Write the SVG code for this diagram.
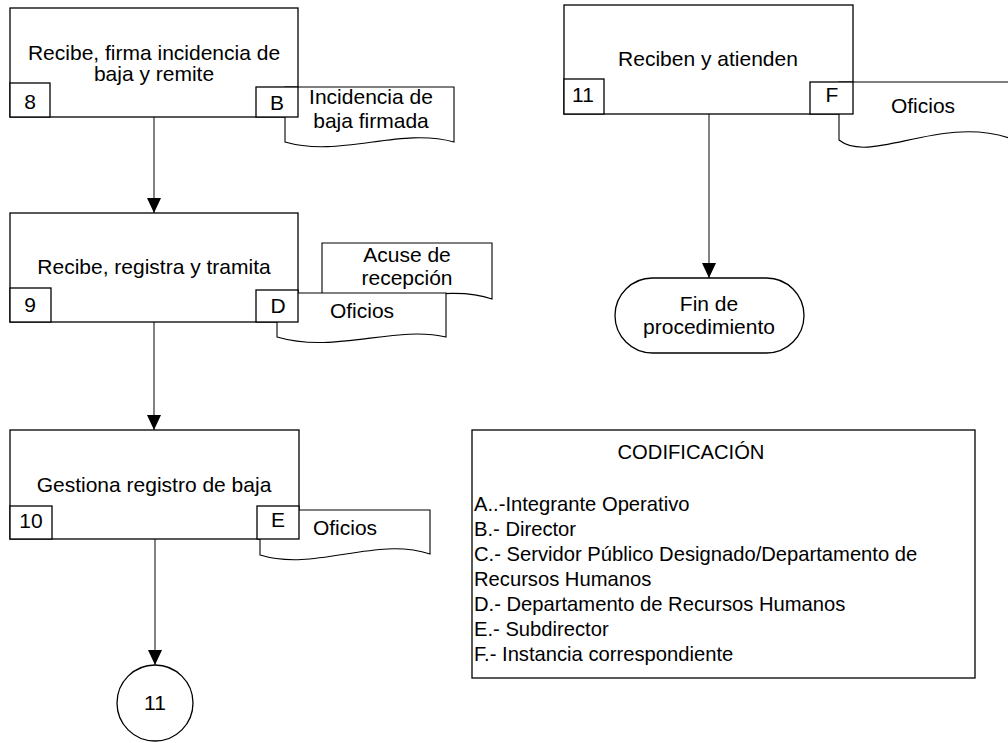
<svg xmlns="http://www.w3.org/2000/svg" width="1008" height="743" viewBox="0 0 1008 743">
<style>
.box{fill:#fff;stroke:#000;stroke-width:1.3}
.doc{fill:#fff;stroke:#000;stroke-width:1.1}
.conn{fill:none;stroke:#404040;stroke-width:1.3}
text{font-family:"Liberation Sans",Arial,sans-serif;font-size:21px;fill:#000}
.c{text-anchor:middle}
.k{font-size:20.2px}
</style>
<defs>
<marker id="arr" markerUnits="userSpaceOnUse" markerWidth="15" markerHeight="14" refX="15" refY="7" orient="auto">
<path d="M0,0 L15,7 L0,14 Z" fill="#000"/>
</marker>
</defs>
<rect width="1008" height="743" fill="#fff"/>
<g id="connectors">
<path class="conn" d="M154,117 V213" marker-end="url(#arr)"/>
<path class="conn" d="M154,322 V430" marker-end="url(#arr)"/>
<path class="conn" d="M155,539 V665" marker-end="url(#arr)"/>
<path class="conn" d="M709,114 V278" marker-end="url(#arr)"/>
</g>
<g id="node8">
<rect class="box" x="10" y="8" width="288" height="109"/>
<text class="c" x="154" y="60">Recibe, firma incidencia de</text>
<text class="c" x="154" y="81">baja y remite</text>
<path class="doc" d="M285,87 H454 V142 C400,127 340,158 285,142 Z"/>
<text class="c" x="371" y="104">Incidencia de</text>
<text class="c" x="371" y="128">baja firmada</text>
<rect class="box" x="10" y="83" width="40" height="34"/>
<text class="c" x="30" y="109">8</text>
<rect class="box" x="256" y="87" width="42" height="30"/>
<text class="c" x="277" y="110">B</text>
</g>
<g id="node9">
<rect class="box" x="10" y="213" width="288" height="109"/>
<text class="c" x="154" y="274">Recibe, registra y tramita</text>
<path class="doc" d="M322,243 H492 V299 C445,282 380,310 322,298 Z"/>
<text class="c" x="407" y="262">Acuse de</text>
<text class="c" x="407" y="285">recepción</text>
<path class="doc" d="M277,293 H446 V337 C395,325 335,354 277,337 Z"/>
<text class="c" x="362" y="318">Oficios</text>
<rect class="box" x="10" y="288" width="41" height="34"/>
<text class="c" x="30" y="312">9</text>
<rect class="box" x="256" y="290" width="42" height="32"/>
<text class="c" x="278" y="313">D</text>
</g>
<g id="node10">
<rect class="box" x="10" y="430" width="289" height="109"/>
<text class="c" x="154" y="492">Gestiona registro de baja</text>
<path class="doc" d="M260,510 H430 V554 C375,536 315,572 260,555 Z"/>
<text class="c" x="345" y="535">Oficios</text>
<rect class="box" x="10" y="506" width="42" height="33"/>
<text class="c" x="31" y="528">10</text>
<rect class="box" x="257" y="506" width="42" height="33"/>
<text class="c" x="278" y="527">E</text>
</g>
<g id="connector11">
<circle class="box" cx="155" cy="703" r="38"/>
<text class="c" x="155" y="710">11</text>
</g>
<g id="node11">
<rect class="box" x="564" y="5" width="289" height="109"/>
<text class="c" x="708" y="66">Reciben y atienden</text>
<path class="doc" d="M839,82 H1009 V138 C940,115 870,165 839,140 Z"/>
<text class="c" x="923" y="113">Oficios</text>
<rect class="box" x="564" y="79" width="40" height="35"/>
<text class="c" x="583" y="102">11</text>
<rect class="box" x="810" y="82" width="43" height="32"/>
<text class="c" x="832" y="102">F</text>
</g>
<g id="fin">
<rect class="box" x="615" y="278" width="189" height="75" rx="37.5" ry="37.5"/>
<text class="c" x="709" y="311">Fin de</text>
<text class="c" x="709" y="334">procedimiento</text>
</g>
<g id="codificacion">
<rect class="box" x="472" y="430" width="503" height="248"/>
<text class="c k" x="691" y="459">CODIFICACIÓN</text>
<text class="k" x="474" y="511">A..-Integrante Operativo</text>
<text class="k" x="474" y="536">B.- Director</text>
<text class="k" x="474" y="561">C.- Servidor Público Designado/Departamento de</text>
<text class="k" x="474" y="586">Recursos Humanos</text>
<text class="k" x="474" y="611">D.- Departamento de Recursos Humanos</text>
<text class="k" x="474" y="636">E.- Subdirector</text>
<text class="k" x="474" y="661">F.- Instancia correspondiente</text>
</g>
</svg>
